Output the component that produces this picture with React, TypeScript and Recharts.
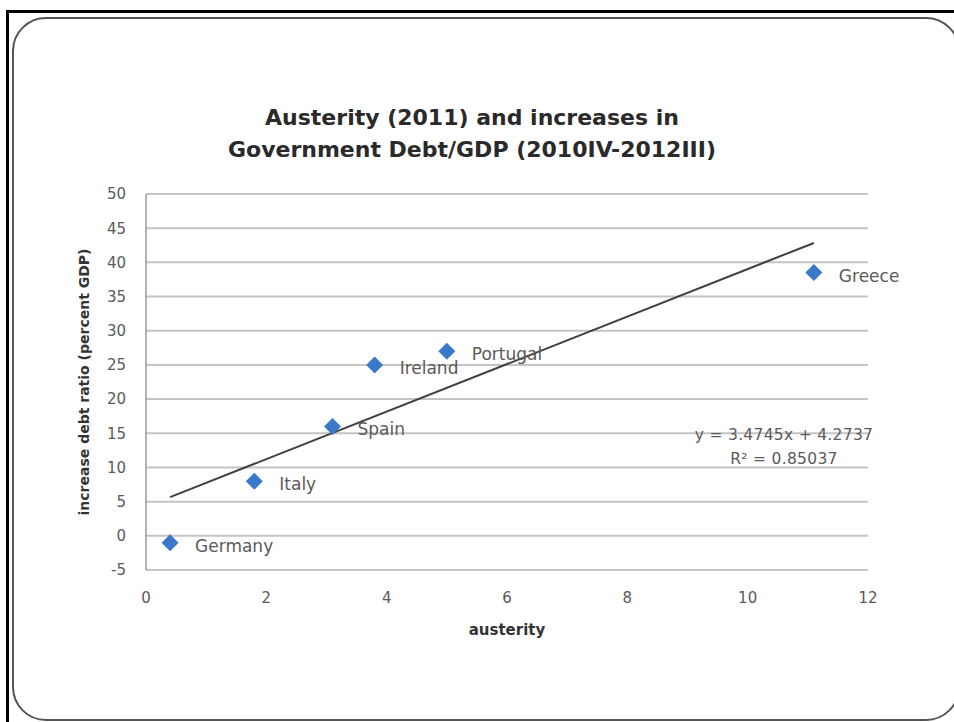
import { ScatterChart, Scatter, XAxis, YAxis, CartesianGrid, Label } from 'recharts';

const countries = ['Germany', 'Italy', 'Spain', 'Ireland', 'Portugal', 'Greece'];
const austerity = [0.4, 1.8, 3.1, 3.8, 5.0, 11.1];
const debtIncrease = [-1, 8, 16, 25, 27, 38.5];

// trendline end points as drawn (Excel linear fit)
const trendX = [0.4, 11.1];
const trendY = [5.66, 42.84];

const xTicks = [0, 2, 4, 6, 8, 10, 12];
const yTicks = [-5, 0, 5, 10, 15, 20, 25, 30, 35, 40, 45, 50];

const titleLines = ['Austerity (2011) and increases in', 'Government Debt/GDP (2010IV-2012III)'];
const equationLines = ['y = 3.4745x + 4.2737', 'R\u00b2 = 0.85037'];

const points = countries.map((name, i) => ({ name, x: austerity[i], y: debtIncrease[i] }));
const trend = trendX.map((x, i) => ({ x, y: trendY[i] }));

const FONT = '"DejaVu Sans", sans-serif';
const GRID = '#c4c4c4';
const TEXT = '#5a5a5a';

function Diamond(props: any) {
  const { cx, cy, payload } = props;
  const r = 8.5;
  return (
    <g>
      <polygon
        points={`${cx},${cy - r} ${cx + r},${cy} ${cx},${cy + r} ${cx - r},${cy}`}
        fill="#3a78c9"
      />
      <text x={cx + 25} y={cy + 3} dominantBaseline="central" fontFamily={FONT} fontSize={17} fill={TEXT}>
        {payload.name}
      </text>
    </g>
  );
}

function YTitle(props: any) {
  const { viewBox } = props;
  const cx = viewBox.x - 2;
  const cy = viewBox.y + viewBox.height / 2;
  return (
    <text
      x={cx}
      y={cy}
      transform={`rotate(-90 ${cx} ${cy})`}
      textAnchor="middle"
      dominantBaseline="central"
      fontFamily={FONT}
      fontWeight="bold"
      fontSize={14}
      fill="#333"
    >
      increase debt ratio (percent GDP)
    </text>
  );
}

export default function App() {
  return (
    <div style={{ position: 'absolute', left: 0, top: 0, width: 954, height: 722, overflow: 'hidden', background: '#fff' }}>
      {/* black frame, top and left */}
      <div style={{ position: 'absolute', left: 6, top: 10, width: 948, height: 3, background: '#000' }} />
      <div style={{ position: 'absolute', left: 6, top: 10, width: 3, height: 712, background: '#000' }} />
      {/* rounded slide box, runs off the right edge */}
      <div
        style={{
          position: 'absolute', left: 12, top: 17, width: 948, height: 704,
          border: '2px solid #555', borderRadius: 34, boxSizing: 'border-box',
        }}
      />

      <div
        style={{
          position: 'absolute', left: 0, top: 102, width: 944, textAlign: 'center',
          fontFamily: FONT, fontWeight: 'bold', fontSize: 22, lineHeight: '32px', color: '#2a2a2a',
        }}
      >
        {titleLines.map((t) => <div key={t}>{t}</div>)}
      </div>

      <div style={{ position: 'absolute', left: 0, top: 0 }}>
        <ScatterChart width={954} height={722} margin={{ top: 194, right: 86, bottom: 112, left: 86 }}>
          <CartesianGrid horizontal vertical={false} stroke={GRID} strokeWidth={2} />
          <XAxis
            type="number"
            dataKey="x"
            domain={[0, 12]}
            ticks={xTicks}
            height={40}
            tickLine={false}
            axisLine={{ stroke: GRID, strokeWidth: 2 }}
            tickMargin={16}
            tick={{ fontFamily: FONT, fontSize: 15, fill: TEXT }}
          >
            <Label value="austerity" position="bottom" offset={14} fontFamily={FONT} fontWeight="bold" fontSize={15} fill="#333" />
          </XAxis>
          <YAxis
            type="number"
            dataKey="y"
            domain={[-5, 50]}
            ticks={yTicks}
            width={60}
            tickLine={false}
            axisLine={{ stroke: '#9a9a9a', strokeWidth: 1.5 }}
            tickMargin={14}
            tick={{ fontFamily: FONT, fontSize: 15, fill: TEXT }}
            interval={0}
          >
            <Label content={YTitle} />
          </YAxis>
          <Scatter
            data={trend}
            line={{ stroke: '#404040', strokeWidth: 2 }}
            shape={() => <g />}
            isAnimationActive={false}
            legendType="none"
          />
          <Scatter data={points} shape={Diamond} isAnimationActive={false} legendType="none" />
        </ScatterChart>
      </div>

      <div
        style={{
          position: 'absolute', left: 684, top: 423, width: 200, textAlign: 'center',
          fontFamily: FONT, fontSize: 15.5, lineHeight: '24px', color: TEXT, letterSpacing: 0.3,
        }}
      >
        {equationLines.map((t) => <div key={t}>{t}</div>)}
      </div>
    </div>
  );
}
